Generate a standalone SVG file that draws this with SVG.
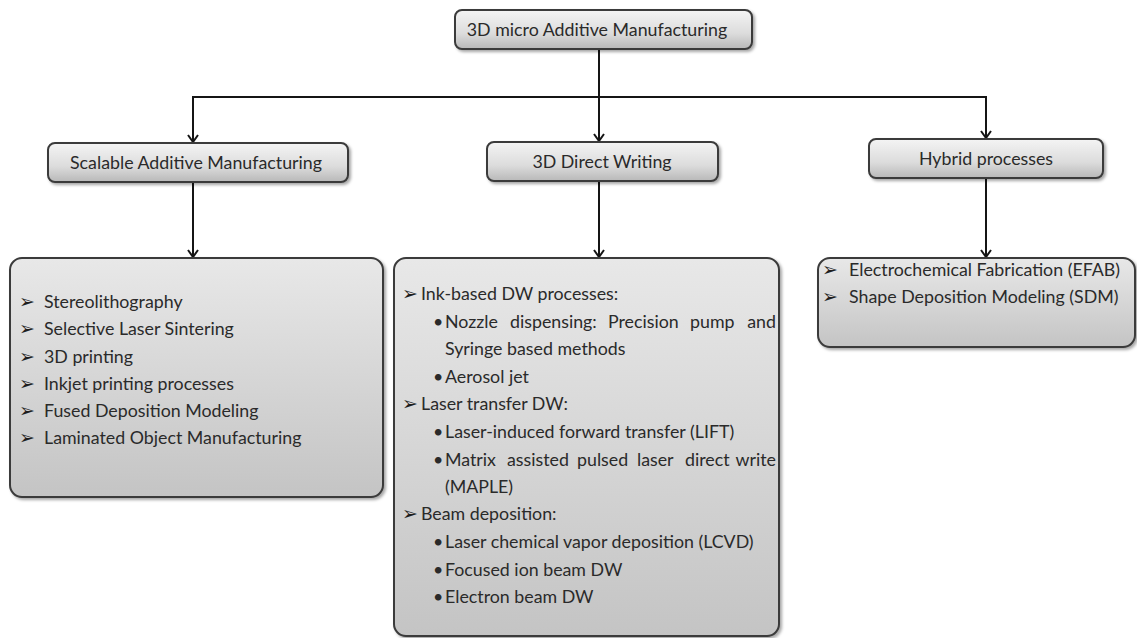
<svg xmlns="http://www.w3.org/2000/svg" width="1137" height="638" viewBox="0 0 1137 638">
<style>
  text { font-family: Lato, "Open Sans", "Liberation Sans", sans-serif; fill: #2a2a2a; }
  .hd { font-size: 17.8px; text-anchor: middle; }
  .it { font-size: 17.8px; }
  .end { text-anchor: end; }
  .sym { font-family: "DejaVu Sans", sans-serif; font-size: 19px; fill: #1e1e1e; }
  .box { stroke: #3a3a3a; stroke-width: 2; filter: url(#sh); }
  .small { fill: url(#gs); }
  .big { fill: url(#gb); }
  .con { fill: none; stroke: #151515; stroke-width: 2; }
</style>
<defs>
  <linearGradient id="gs" x1="0" y1="0" x2="0" y2="1">
    <stop offset="0" stop-color="#f4f4f4"/>
    <stop offset="0.6" stop-color="#dcdcdc"/>
    <stop offset="1" stop-color="#b8b8b8"/>
  </linearGradient>
  <linearGradient id="gb" x1="0" y1="0" x2="0" y2="1">
    <stop offset="0" stop-color="#e8e8e8"/>
    <stop offset="1" stop-color="#c4c4c4"/>
  </linearGradient>
  <filter id="sh" x="-5%" y="-5%" width="112%" height="120%">
    <feDropShadow dx="2" dy="2" stdDeviation="1.5" flood-color="#000" flood-opacity="0.35"/>
  </filter>
  <marker id="arr" markerWidth="12" markerHeight="12" refX="10" refY="6" orient="auto" markerUnits="userSpaceOnUse">
    <path d="M3,1 L10,6 L3,11" fill="none" stroke="#151515" stroke-width="2"/>
  </marker>
</defs>

<g id="connectors">
  <line class="con" x1="599" y1="49" x2="599" y2="97"/>
  <line class="con" x1="192" y1="97" x2="987" y2="97"/>
  <line class="con" x1="193" y1="97" x2="193" y2="142" marker-end="url(#arr)"/>
  <line class="con" x1="599" y1="97" x2="599" y2="141" marker-end="url(#arr)"/>
  <line class="con" x1="986" y1="97" x2="986" y2="138" marker-end="url(#arr)"/>
  <line class="con" x1="193" y1="182" x2="193" y2="257" marker-end="url(#arr)"/>
  <line class="con" x1="599" y1="181" x2="599" y2="257" marker-end="url(#arr)"/>
  <line class="con" x1="986" y1="178" x2="986" y2="257" marker-end="url(#arr)"/>
</g>

<g id="root">
  <rect class="box small" x="455" y="10" width="297" height="39" rx="7"/>
  <text class="hd" x="597" y="36">3D micro Additive Manufacturing</text>
</g>

<g id="scalable">
  <rect class="box small" x="48" y="143" width="300" height="39" rx="7"/>
  <text class="hd" x="196" y="169">Scalable Additive Manufacturing</text>
</g>

<g id="direct-writing">
  <rect class="box small" x="487" y="142" width="231" height="39" rx="7"/>
  <text class="hd" x="602" y="168">3D Direct Writing</text>
</g>

<g id="hybrid">
  <rect class="box small" x="869" y="139" width="234" height="39" rx="7"/>
  <text class="hd" x="986" y="165">Hybrid processes</text>
</g>

<g id="scalable-list">
  <rect class="box big" x="10" y="258" width="373" height="239" rx="12"/>
  <text class="sym" x="19" y="308">➢</text><text class="it" x="44" y="308">Stereolithography</text>
  <text class="sym" x="19" y="335">➢</text><text class="it" x="44" y="335">Selective Laser Sintering</text>
  <text class="sym" x="19" y="363">➢</text><text class="it" x="44" y="363">3D printing</text>
  <text class="sym" x="19" y="390">➢</text><text class="it" x="44" y="390">Inkjet printing processes</text>
  <text class="sym" x="19" y="417">➢</text><text class="it" x="44" y="417">Fused Deposition Modeling</text>
  <text class="sym" x="19" y="444">➢</text><text class="it" x="44" y="444">Laminated Object Manufacturing</text>
</g>

<g id="dw-list">
  <rect class="box big" x="394" y="258" width="385" height="378" rx="12"/>
  <text class="sym" x="402" y="300">➢</text><text class="it" x="421" y="300">Ink-based DW processes:</text>
  <text class="it" x="433" y="328">•</text><text class="it" y="328"><tspan x="445">Nozzle</tspan><tspan x="510">dispensing:</tspan><tspan x="608">Precision</tspan><tspan x="690">pump</tspan></text><text class="it end" x="776" y="328">and</text>
  <text class="it" x="445" y="355">Syringe based methods</text>
  <text class="it" x="433" y="383">•</text><text class="it" x="445" y="383">Aerosol jet</text>
  <text class="sym" x="402" y="410">➢</text><text class="it" x="421" y="410">Laser transfer DW:</text>
  <text class="it" x="433" y="438">•</text><text class="it" x="445" y="438">Laser-induced forward transfer (LIFT)</text>
  <text class="it" x="433" y="466">•</text><text class="it" y="466"><tspan x="445">Matrix</tspan><tspan x="507">assisted</tspan><tspan x="577">pulsed</tspan><tspan x="637">laser</tspan><tspan x="685">direct</tspan></text><text class="it end" x="776" y="466">write</text>
  <text class="it" x="445" y="493">(MAPLE)</text>
  <text class="sym" x="402" y="520">➢</text><text class="it" x="421" y="520">Beam deposition:</text>
  <text class="it" x="433" y="548">•</text><text class="it" x="445" y="548">Laser chemical vapor deposition (LCVD)</text>
  <text class="it" x="433" y="576">•</text><text class="it" x="445" y="576">Focused ion beam DW</text>
  <text class="it" x="433" y="603">•</text><text class="it" x="445" y="603">Electron beam DW</text>
</g>

<g id="hybrid-list">
  <rect class="box big" x="818" y="258" width="317" height="89" rx="12"/>
  <text class="sym" x="822" y="276">➢</text><text class="it" x="849" y="276">Electrochemical Fabrication (EFAB)</text>
  <text class="sym" x="822" y="303">➢</text><text class="it" x="849" y="303">Shape Deposition Modeling  (SDM)</text>
</g>
</svg>
